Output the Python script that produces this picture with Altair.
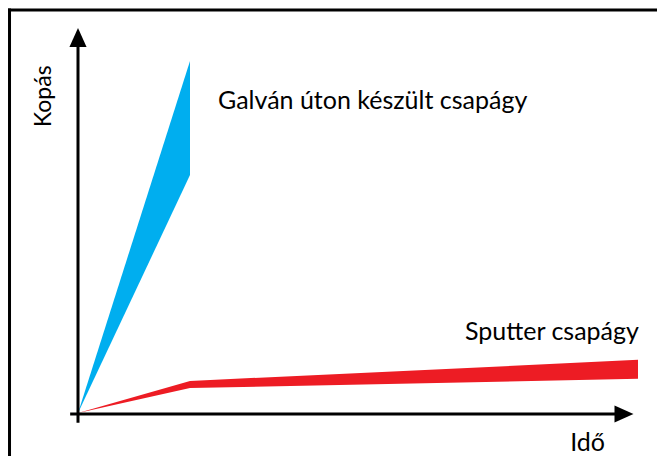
import altair as alt
import pandas as pd

# Wear band of the electroplated ("Galván") bearing: time vs wear (upper / lower edge)
galv_t = [0, 2]
galv_hi = [0, 10.0]
galv_lo = [0, 6.76]

# Wear band of the sputtered bearing
sput_t = [0, 2, 10]
sput_hi = [0, 0.91, 1.51]
sput_lo = [0, 0.71, 0.97]

# Annotation texts and their anchor positions (data units)
ann_text = ["Galván úton készült csapágy", "Sputter csapágy", "Idő"]
ann_t = [2.5, 6.91, 8.79]
ann_w = [8.64, 2.07, -1.08]

ylab_text = ["Kopás"]
ylab_t = [-0.48]
ylab_w = [9.0]

# Axis arrow extents (data units)
x_axis_from, x_axis_to, x_head = -0.14, 9.6, 9.75
y_axis_from, y_axis_to, y_head = -0.28, 10.4, 10.67
frame_top_w, frame_left_t = 11.45, -1.223

W, H = 649, 448
PX_T, PX_W = 56.0, 35.2
XMIN = -70 / PX_T
XMAX = XMIN + W / PX_T
YMAX = (413 - 8) / PX_W
YMIN = YMAX - H / PX_W

xs = alt.Scale(domain=[XMIN, XMAX], nice=False, zero=False)
ys = alt.Scale(domain=[YMIN, YMAX], nice=False, zero=False)
FONT = "Lato"

galv = pd.DataFrame({"t": galv_t, "hi": galv_hi, "lo": galv_lo})
sput = pd.DataFrame({"t": sput_t, "hi": sput_hi, "lo": sput_lo})

blue = alt.Chart(galv).mark_area(color="#00AEEF", opacity=1).encode(
    x=alt.X("t:Q", scale=xs, axis=None),
    y=alt.Y("hi:Q", scale=ys, axis=None),
    y2="lo:Q",
)
red = alt.Chart(sput).mark_area(color="#ED1C24", opacity=1).encode(
    x=alt.X("t:Q", scale=xs, axis=None),
    y=alt.Y("hi:Q", scale=ys, axis=None),
    y2="lo:Q",
)

axes_df = pd.DataFrame({
    "x1": [x_axis_from, 0.0],
    "x2": [x_axis_to, 0.0],
    "y1": [-0.03, y_axis_from],
    "y2": [-0.03, y_axis_to],
})
axes = alt.Chart(axes_df).mark_rule(color="black", strokeWidth=3).encode(
    x=alt.X("x1:Q", scale=xs, axis=None), x2="x2:Q",
    y=alt.Y("y1:Q", scale=ys, axis=None), y2="y2:Q",
)

frame_df = pd.DataFrame({
    "x1": [XMIN, frame_left_t],
    "x2": [XMAX, frame_left_t],
    "y1": [frame_top_w, YMIN],
    "y2": [frame_top_w, frame_top_w + 0.04],
})
frame = alt.Chart(frame_df).mark_rule(color="black", strokeWidth=3).encode(
    x=alt.X("x1:Q", scale=xs, axis=None), x2="x2:Q",
    y=alt.Y("y1:Q", scale=ys, axis=None), y2="y2:Q",
)

head_up = alt.Chart(pd.DataFrame({"t": [0.0], "w": [y_head]})).mark_point(
    shape="M0,-1L-0.9,1L0.9,1Z", size=361, filled=True, color="black", opacity=1
).encode(x=alt.X("t:Q", scale=xs, axis=None), y=alt.Y("w:Q", scale=ys, axis=None))
head_right = alt.Chart(pd.DataFrame({"t": [x_head], "w": [-0.03]})).mark_point(
    shape="M1,0L-1,-0.9L-1,0.9Z", size=361, filled=True, color="black", opacity=1
).encode(x=alt.X("t:Q", scale=xs, axis=None), y=alt.Y("w:Q", scale=ys, axis=None))

ann = alt.Chart(pd.DataFrame({"t": ann_t, "w": ann_w, "s": ann_text})).mark_text(
    align="left", baseline="alphabetic", font=FONT, fontSize=25, color="black"
).encode(x=alt.X("t:Q", scale=xs, axis=None), y=alt.Y("w:Q", scale=ys, axis=None), text="s:N")

ylab = alt.Chart(pd.DataFrame({"t": ylab_t, "w": ylab_w, "s": ylab_text})).mark_text(
    align="center", baseline="alphabetic", angle=270, font=FONT, fontSize=23, color="black"
).encode(x=alt.X("t:Q", scale=xs, axis=None), y=alt.Y("w:Q", scale=ys, axis=None), text="s:N")

chart = alt.layer(frame, blue, red, axes, head_up, head_right, ann, ylab).properties(
    width=W, height=H, padding=0, autosize=alt.AutoSizeParams(type="none")
).configure_view(stroke=None)

chart.save("out.html", embed_options={"renderer": "svg", "actions": False})
